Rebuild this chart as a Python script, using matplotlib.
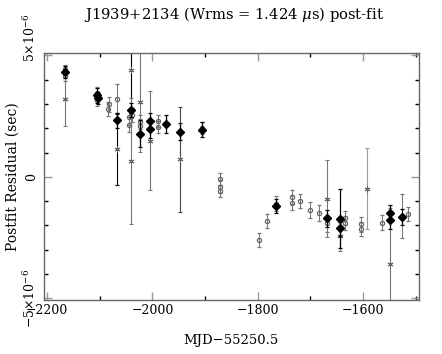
import numpy as np
import matplotlib
matplotlib.use("Agg")
import matplotlib.pyplot as plt
from matplotlib.ticker import MultipleLocator, FixedLocator
from matplotlib.transforms import blended_transform_factory, ScaledTranslation

plt.rcParams['font.family'] = ['DejaVu Serif']
plt.rcParams['mathtext.fontset'] = 'dejavuserif'

# ---- data (x: MJD-55250.5, y: residual in microseconds, err in microseconds)
dia_x = [-2166, -2105, -2104, -2067, -2040, -2023, -2004, -2004, -1975, -1947,
         -1905, -1766, -1668, -1644, -1644, -1549, -1549, -1526]
dia_y = [4.32, 3.35, 3.25, 2.32, 2.76, 1.77, 2.28, 1.96, 2.18, 1.86,
         1.94, -1.20, -1.70, -1.72, -2.12, -1.48, -1.79, -1.64]
dia_e = [0.25, 0.30, 0.25, 0.30, 0.30, 0.55, 0.35, 0.35, 0.36, 0.35,
         0.30, 0.30, 0.35, 1.20, 0.30, 0.33, 0.35, 0.33]

cir_x = [-2166, -2166, -2105, -2105, -2083, -2085, -2067, -2045, -2045, -2039,
         -2023, -2023, -1989, -1989, -1905, -1872, -1872, -1872, -1798, -1782,
         -1766, -1734, -1734, -1720, -1701, -1684, -1668, -1634, -1634, -1603,
         -1603, -1564, -1526, -1515]
cir_y = [4.42, 4.15, 3.45, 3.15, 2.98, 2.80, 3.21, 2.45, 2.15, 2.55,
         2.25, 2.10, 2.30, 2.05, 2.00, -0.10, -0.40, -0.58, -2.60, -1.82,
         -1.10, -0.83, -1.06, -0.99, -1.37, -1.49, -1.90, -1.70, -1.90, -1.95,
         -2.15, -1.89, -1.60, -1.53]
cir_e = [0.20, 0.20, 0.25, 0.25, 0.30, 0.30, 0.60, 0.30, 0.30, 0.30,
         0.30, 0.30, 0.25, 0.25, 0.25, 0.25, 0.25, 0.25, 0.30, 0.30,
         0.30, 0.30, 0.30, 0.30, 0.33, 0.33, 0.35, 0.30, 0.30, 0.30,
         0.30, 0.30, 0.90, 0.30]

ast_x = [-2166, -2067, -2040, -2040, -2023, -2004, -1947, -1668, -1644, -1592, -1549]
ast_y = [3.20, 1.14, 4.41, 0.65, 3.08, 1.49, 0.73, -0.90, -2.44, -0.48, -3.59]
ast_e = [1.10, 1.46, 2.00, 2.60, 2.07, 2.04, 2.16, 1.59, 0.60, 1.66, 2.30]
ast_c = ['#777777', 'black', 'black', '#777777', '#777777', '#777777',
         '#444444', '#777777', '#777777', '#999999', '#777777']

title = "J1939+2134 (Wrms = 1.424 $\\mu$s) post-fit"
xlabel = "MJD\u221255250.5"
ylabel = "Postfit Residual (sec)"
x_major = [-2200, -2000, -1800, -1600]
x_minor = [-2100, -1900, -1700, -1500]
y_labels = ["\u22125\u00d710$^{-6}$", "0", "5\u00d710$^{-6}$"]
y_label_vals = [-5e-6, 0.0, 5e-6]
y_label_va = ['center', 'center', 'bottom']

US = 1e-6

fig = plt.figure(figsize=(4.42, 3.54), dpi=100)
ax = fig.add_axes([0.0995, 0.1525, 0.848, 0.6965])

# asterisks
for x, y, e, c in zip(ast_x, ast_y, ast_e, ast_c):
    ax.errorbar(x, y * US, yerr=e * US, fmt='none', ecolor=c, elinewidth=0.8,
                capsize=1.5, capthick=0.8, zorder=2)
    ax.plot(x, y * US, marker=(6, 2, 0), color='#666666', ms=4.2, mew=0.7,
            ls='none', zorder=3)

# circles
ax.errorbar(cir_x, np.array(cir_y) * US, yerr=np.array(cir_e) * US, fmt='o',
            ms=3.0, mfc='none', mec='#666666', mew=0.9, ecolor='#777777',
            elinewidth=0.75, capsize=1.5, capthick=0.75, zorder=3)

# diamonds
ax.errorbar(dia_x, np.array(dia_y) * US, yerr=np.array(dia_e) * US, fmt='D',
            ms=3.7, color='black', ecolor='black', elinewidth=0.9,
            capsize=1.5, capthick=0.9, zorder=4)

ax.set_xlim(-2206, -1494)
ax.set_ylim(-5.07e-6, 5.08e-6)

ax.xaxis.set_major_locator(FixedLocator(x_major))
ax.xaxis.set_minor_locator(FixedLocator(x_minor))
ax.set_xticklabels([("\u2212" + str(abs(v))) for v in x_major])
ax.yaxis.set_major_locator(FixedLocator(y_label_vals))
ax.yaxis.set_minor_locator(MultipleLocator(1e-6))
ax.set_yticklabels([])

ax.tick_params(which='major', direction='in', length=6, width=1.0, color='#999999',
               top=True, right=True, labelsize=9, pad=3)
ax.tick_params(which='minor', direction='in', length=3, width=1.0, color='black',
               top=True, right=True)

# rotated y tick labels
trans = blended_transform_factory(ax.transAxes, ax.transData)
for v, s, va in zip(y_label_vals, y_labels, y_label_va):
    t = trans
    if va == 'bottom':
        t = trans + ScaledTranslation(0, -0.07, fig.dpi_scale_trans)
    ax.text(-0.015, v, s, transform=t, rotation=90, ha='right', va=va,
            fontsize=9, clip_on=False)

for s in ax.spines.values():
    s.set_color('#666666')
    s.set_linewidth(1.0)

fig.text(0.53, 0.96, title, ha='center', va='center', fontsize=10.6)
ax.set_xlabel(xlabel, fontsize=9.5, labelpad=12)
ax.set_ylabel(ylabel, fontsize=10)
ax.yaxis.set_label_coords(-0.066, 0.5)

fig.savefig("out.png", dpi=100)
